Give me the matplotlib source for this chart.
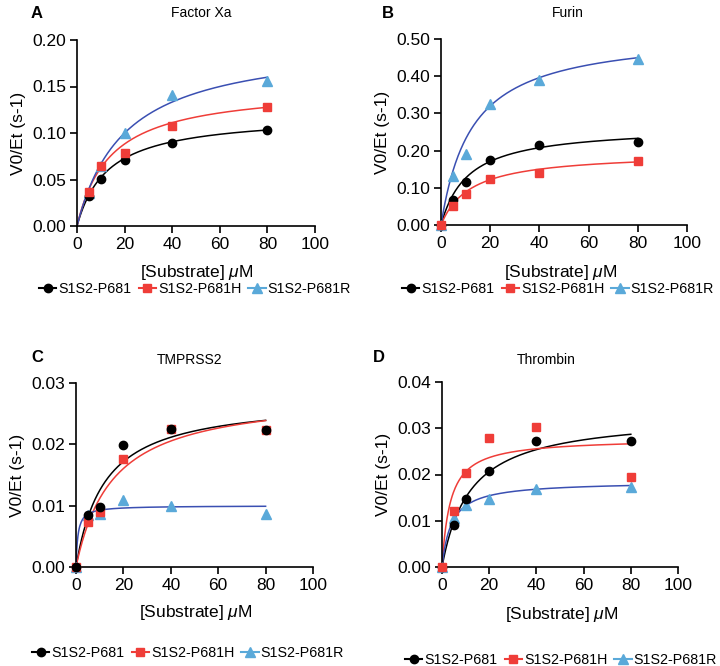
import numpy as np
import matplotlib
matplotlib.use("Agg")
import matplotlib.pyplot as plt
from matplotlib.lines import Line2D

plt.rcParams['font.family'] = ['Liberation Sans', 'DejaVu Sans']
plt.rcParams['mathtext.fontset'] = 'custom'
plt.rcParams['mathtext.it'] = 'Liberation Sans:italic'

# substrate concentrations (uM)
conc = [0, 5, 10, 20, 40, 80]
series = ['S1S2-P681', 'S1S2-P681H', 'S1S2-P681R']

# measured V0/Et, one list per variant (None = no point drawn)
fxa_wt = [None, 0.032, 0.051, 0.071, 0.089, 0.103]
fxa_h = [None, 0.037, 0.064, 0.079, 0.108, 0.128]
fxa_r = [None, 0.035, 0.065, 0.100, 0.141, 0.156]

furin_wt = [0.0, 0.067, 0.116, 0.175, 0.215, 0.222]
furin_h = [0.0, 0.050, 0.082, 0.125, 0.141, 0.171]
furin_r = [0.0, 0.132, 0.190, 0.325, 0.390, 0.445]

tmp_wt = [0.0, 0.0084, 0.0098, 0.0199, 0.0225, 0.0223]
tmp_h = [0.0, 0.0074, 0.0090, 0.0176, 0.0225, 0.0223]
tmp_r = [0.0, 0.0085, 0.0086, 0.0109, 0.0099, 0.0087]

thr_wt = [0.0, 0.0090, 0.0148, 0.0208, 0.0272, 0.0273]
thr_h = [0.0, 0.0122, 0.0203, 0.0280, 0.0302, 0.0194]
thr_r = [0.0, 0.0105, 0.0133, 0.0146, 0.0169, 0.0174]

# Michaelis-Menten fit parameters (Vmax, Km)
fxa_fit = [(0.120, 13.0), (0.150, 14.0), (0.200, 20.0)]
furin_fit = [(0.265, 11.0), (0.195, 12.0), (0.520, 12.5)]
tmp_fit = [(0.0275, 12.0), (0.0285, 15.5), (0.0100, 0.8)]
thr_fit = [(0.033, 12.0), (0.0278, 3.5), (0.0185, 4.0)]

panels = [
    dict(label='A', title='Factor Xa', data=[fxa_wt, fxa_h, fxa_r], fit=fxa_fit,
         ymax=0.20, yticks=[0, 0.05, 0.10, 0.15, 0.20], fmt='%.2f',
         rect=[77, 40, 315, 226], title_xy=(201, 13), lab_xy=(37, 13),
         xl_xy=(197, 272), leg_xy=(195, 289)),
    dict(label='B', title='Furin', data=[furin_wt, furin_h, furin_r], fit=furin_fit,
         ymax=0.50, yticks=[0, 0.1, 0.2, 0.3, 0.4, 0.5], fmt='%.2f',
         rect=[441, 39, 687, 225], title_xy=(568, 13), lab_xy=(388, 13),
         xl_xy=(561, 272), leg_xy=(558, 289)),
    dict(label='C', title='TMPRSS2', data=[tmp_wt, tmp_h, tmp_r], fit=tmp_fit,
         ymax=0.03, yticks=[0, 0.01, 0.02, 0.03], fmt='%.2f',
         rect=[76, 383, 313, 567], title_xy=(190, 360), lab_xy=(37, 357),
         xl_xy=(196, 613), leg_xy=(188, 653)),
    dict(label='D', title='Thrombin', data=[thr_wt, thr_h, thr_r], fit=thr_fit,
         ymax=0.04, yticks=[0, 0.01, 0.02, 0.03, 0.04], fmt='%.2f',
         rect=[442, 382, 678, 567], title_xy=(546, 360), lab_xy=(379, 357),
         xl_xy=(562, 615), leg_xy=(561, 660)),
]

line_cols = ['black', '#ef3d38', '#3a4fb2']
mark_cols = ['black', '#ef3d38', '#5aa9d9']
markers = ['o', 's', '^']
msizes = [6, 6, 6.5]

W, H = 720, 666
fig = plt.figure(figsize=(W / 100, H / 100), dpi=100)

xs = np.linspace(0, 80, 300)

for p in panels:
    x0, y0, x1, y1 = p['rect']
    ax = fig.add_axes([x0 / W, 1 - y1 / H, (x1 - x0) / W, (y1 - y0) / H])
    for i in range(3):
        vmax, km = p['fit'][i]
        ax.plot(xs, vmax * xs / (km + xs), color=line_cols[i], lw=1.1, zorder=2)
    for i in [2, 0, 1] if p['label'] != 'C' else [2, 1, 0]:
        pts = [(c, v) for c, v in zip(conc, p['data'][i]) if v is not None]
        ax.plot([c for c, v in pts], [v for c, v in pts], ls='none',
                marker=markers[i], ms=msizes[i], color=mark_cols[i],
                mec=mark_cols[i], clip_on=False, zorder=3)
    ax.set_xlim(0, 100)
    ax.set_ylim(0, p['ymax'])
    ax.set_xticks([0, 20, 40, 60, 80, 100])
    ax.set_yticks(p['yticks'])
    ax.yaxis.set_major_formatter(matplotlib.ticker.FormatStrFormatter(p['fmt']))
    for s in ['top', 'right']:
        ax.spines[s].set_visible(False)
    for s in ['left', 'bottom']:
        ax.spines[s].set_linewidth(1.2)
    ax.tick_params(length=5, width=1.2, labelsize=12.5, pad=3)
    ax.set_ylabel('V0/Et (s-1)', fontsize=12.5, labelpad=4)

    fig.text(p['title_xy'][0] / W, 1 - p['title_xy'][1] / H, p['title'],
             ha='center', va='center', fontsize=10)
    fig.text(p['lab_xy'][0] / W, 1 - p['lab_xy'][1] / H, p['label'],
             ha='center', va='center', fontsize=12, fontweight='bold')
    fig.text(p['xl_xy'][0] / W, 1 - p['xl_xy'][1] / H, r'[Substrate] $\mu$M',
             ha='center', va='center', fontsize=12.5)

    handles = [Line2D([], [], color=mark_cols[i], marker=markers[i], ms=msizes[i],
                      lw=1.5) for i in range(3)]
    fig.legend(handles, series, loc='center',
               bbox_to_anchor=(p['leg_xy'][0] / W, 1 - p['leg_xy'][1] / H),
               ncol=3, frameon=False, fontsize=10.3, handlelength=1.2,
               handletextpad=0.15, columnspacing=0.5, borderaxespad=0,
               borderpad=0.1)

fig.savefig('out.png', dpi=100)
